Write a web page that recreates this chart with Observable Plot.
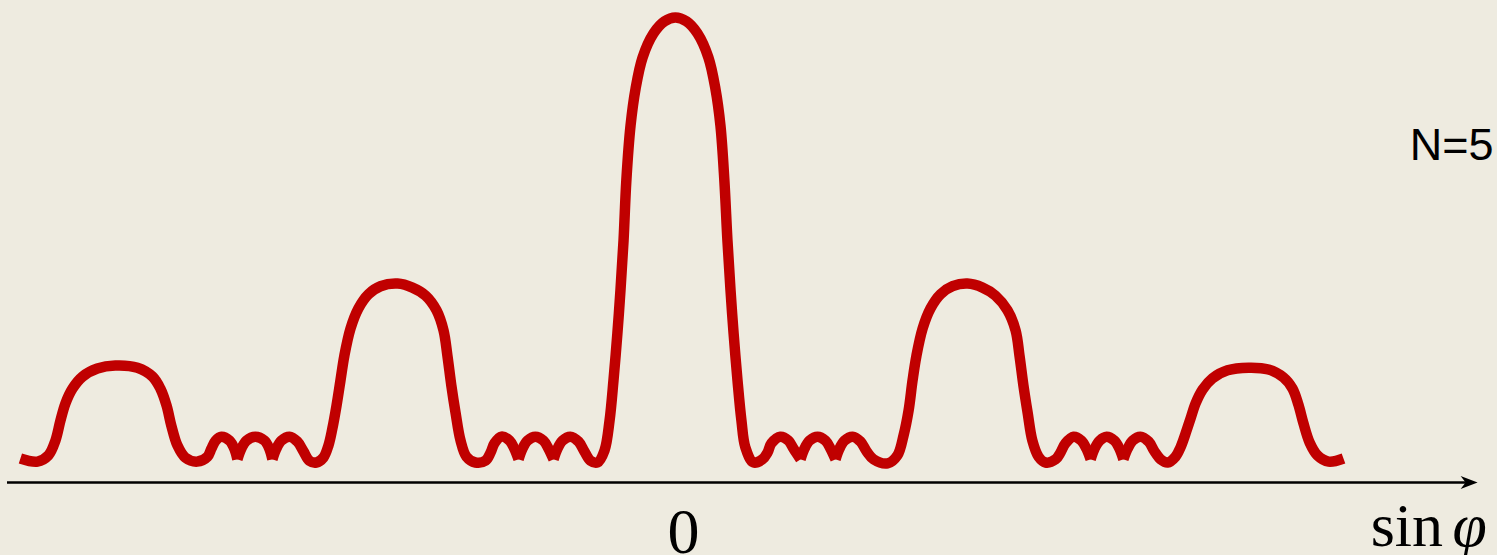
<!DOCTYPE html>
<html>
<head>
<meta charset="utf-8">
<script src="https://cdn.jsdelivr.net/npm/d3@7"></script>
<script src="https://cdn.jsdelivr.net/npm/@observablehq/plot@0.6"></script>
<style>
  html, body { margin: 0; padding: 0; background: #EEEBE0; }
  #chart svg { display: block; }
</style>
</head>
<body>
<div id="chart"></div>
<script>
// sin φ in units of the principal-maximum period; intensity relative to central maximum
// Curve pieces (broken at the sharp minima between secondary maxima)
const seg1X = [-2.343, -2.282, -2.243, -2.218, -2.200, -2.182, -2.157, -2.121, -2.068, -2.004, -1.925, -1.871, -1.843, -1.821, -1.804, -1.782, -1.754, -1.711, -1.675, -1.661, -1.646, -1.625, -1.596, -1.579, -1.568];
const seg1Y = [0.009, 0.002, 0.016, 0.049, 0.094, 0.133, 0.166, 0.193, 0.211, 0.218, 0.213, 0.193, 0.166, 0.128, 0.083, 0.038, 0.011, 0.002, 0.013, 0.031, 0.049, 0.058, 0.049, 0.031, 0.007];

const seg2X = [-1.568, -1.554, -1.536, -1.504, -1.471, -1.454, -1.443];
const seg2Y = [0.007, 0.031, 0.049, 0.058, 0.049, 0.031, 0.007];

const seg3X = [-1.443, -1.429, -1.411, -1.382, -1.354, -1.332, -1.311, -1.286, -1.261, -1.243, -1.229, -1.214, -1.200, -1.186, -1.164, -1.136, -1.100, -1.057, -0.996, -0.943, -0.896, -0.857, -0.832, -0.818, -0.804, -0.789, -0.771, -0.750, -0.718, -0.682, -0.664, -0.650, -0.625, -0.596, -0.579, -0.564];
const seg3Y = [0.007, 0.031, 0.049, 0.058, 0.047, 0.025, 0.004, 0.000, 0.011, 0.038, 0.076, 0.128, 0.184, 0.240, 0.301, 0.346, 0.378, 0.396, 0.402, 0.393, 0.375, 0.342, 0.297, 0.240, 0.173, 0.112, 0.049, 0.013, 0.000, 0.004, 0.022, 0.043, 0.058, 0.049, 0.031, 0.007];

const seg4X = [-0.564, -0.550, -0.532, -0.504, -0.475, -0.457, -0.439];
const seg4Y = [0.007, 0.031, 0.049, 0.058, 0.049, 0.031, 0.007];

const seg5X = [-0.439, -0.425, -0.407, -0.379, -0.350, -0.329, -0.307, -0.282, -0.257, -0.239, -0.225, -0.211, -0.200, -0.189, -0.179, -0.164, -0.146, -0.121, -0.082, -0.043, -0.004, 0.036, 0.075, 0.114, 0.139, 0.157, 0.171, 0.182, 0.193, 0.204, 0.218, 0.232, 0.246, 0.275, 0.307, 0.325, 0.339, 0.371, 0.400, 0.418, 0.443];
const seg5Y = [0.007, 0.031, 0.049, 0.058, 0.047, 0.025, 0.004, 0.000, 0.027, 0.094, 0.184, 0.290, 0.387, 0.499, 0.634, 0.757, 0.840, 0.910, 0.964, 0.991, 1.000, 0.991, 0.964, 0.910, 0.840, 0.757, 0.634, 0.499, 0.387, 0.290, 0.184, 0.094, 0.034, 0.000, 0.007, 0.022, 0.043, 0.058, 0.049, 0.031, 0.007];

const seg6X = [0.443, 0.457, 0.475, 0.504, 0.532, 0.550, 0.568];
const seg6Y = [0.007, 0.031, 0.049, 0.058, 0.049, 0.031, 0.007];

const seg7X = [0.568, 0.582, 0.600, 0.629, 0.657, 0.679, 0.704, 0.754, 0.789, 0.811, 0.829, 0.843, 0.857, 0.879, 0.907, 0.943, 0.986, 1.039, 1.093, 1.139, 1.182, 1.211, 1.225, 1.239, 1.254, 1.271, 1.293, 1.318, 1.354, 1.371, 1.389, 1.418, 1.446, 1.464, 1.479];
const seg7Y = [0.007, 0.031, 0.049, 0.058, 0.047, 0.025, 0.007, -0.002, 0.016, 0.061, 0.117, 0.184, 0.240, 0.301, 0.346, 0.378, 0.396, 0.402, 0.393, 0.375, 0.342, 0.297, 0.240, 0.173, 0.112, 0.049, 0.013, 0.000, 0.007, 0.022, 0.043, 0.058, 0.049, 0.031, 0.007];

const seg8X = [1.479, 1.493, 1.511, 1.536, 1.564, 1.582, 1.596];
const seg8Y = [0.007, 0.031, 0.049, 0.058, 0.049, 0.031, 0.007];

const seg9X = [1.596, 1.611, 1.629, 1.657, 1.686, 1.707, 1.729, 1.754, 1.782, 1.800, 1.818, 1.836, 1.854, 1.879, 1.914, 1.968, 2.043, 2.114, 2.168, 2.200, 2.221, 2.239, 2.261, 2.289, 2.329, 2.382];
const seg9Y = [0.007, 0.031, 0.049, 0.058, 0.047, 0.025, 0.007, 0.000, 0.013, 0.034, 0.065, 0.099, 0.133, 0.164, 0.189, 0.207, 0.213, 0.209, 0.191, 0.166, 0.130, 0.088, 0.045, 0.016, 0.002, 0.009];

const tickValues = [0];
const tickLabels = ["0"];
const axisLabelParts = ["sin", "φ"];
const seriesLabel = ["N=5"];

const segments = [
  [seg1X, seg1Y], [seg2X, seg2Y], [seg3X, seg3Y], [seg4X, seg4Y], [seg5X, seg5Y],
  [seg6X, seg6Y], [seg7X, seg7Y], [seg8X, seg8Y], [seg9X, seg9Y]
];
const rows = segments.flatMap(([xs, ys], i) => xs.map((x, j) => ({x, y: ys[j], seg: i})));

// axis geometry (data units)
const axisLevel = -0.045;
const axisStart = -2.389;
const axisTip = 2.861;

const arrowHead = {
  draw(context) {
    context.moveTo(0, 0);
    context.lineTo(-17, -6.5);
    context.lineTo(-12, 0);
    context.lineTo(-17, 6.5);
    context.closePath();
  }
};

const chart = Plot.plot({
  width: 1497,
  height: 555,
  margin: 0,
  style: {background: "#EEEBE0"},
  x: {domain: [-2.414, 2.932], axis: null},
  y: {domain: [-0.209, 1.038], axis: null},
  marks: [
    Plot.ruleY([{y: axisLevel, x1: axisStart, x2: axisTip - 0.04}], {y: "y", x1: "x1", x2: "x2", stroke: "#000", strokeWidth: 2.5}),
    Plot.dot([{x: axisTip, y: axisLevel}], {x: "x", y: "y", symbol: arrowHead, fill: "#000", stroke: "none", r: 5}),
    Plot.line(rows, {x: "x", y: "y", z: "seg", stroke: "#C00000", strokeWidth: 10.5, curve: "catmull-rom", strokeLinecap: "butt", strokeLinejoin: "round"}),
    Plot.text(tickValues.map((v, i) => ({x: v, label: tickLabels[i]})), {x: "x", y: () => -0.157, text: "label", dx: 7, fontFamily: "Liberation Serif", fontSize: 64, fill: "#000", lineAnchor: "middle"}),
    Plot.text([{x: 2.479, t: axisLabelParts[0]}], {x: "x", y: () => -0.142, text: "t", textAnchor: "start", fontFamily: "Liberation Serif", fontSize: 62, fill: "#000", lineAnchor: "middle"}),
    Plot.text([{x: 2.771, t: axisLabelParts[1]}], {x: "x", y: () => -0.142, text: "t", textAnchor: "start", fontFamily: "Liberation Serif", fontStyle: "italic", fontSize: 62, fill: "#000", lineAnchor: "middle"}),
    Plot.text([{x: 2.918, t: seriesLabel[0]}], {x: "x", y: () => 0.712, text: "t", textAnchor: "end", fontFamily: "Liberation Sans", fontSize: 45, fill: "#000", lineAnchor: "middle"})
  ]
});
document.getElementById("chart").appendChild(chart);
</script>
</body>
</html>
